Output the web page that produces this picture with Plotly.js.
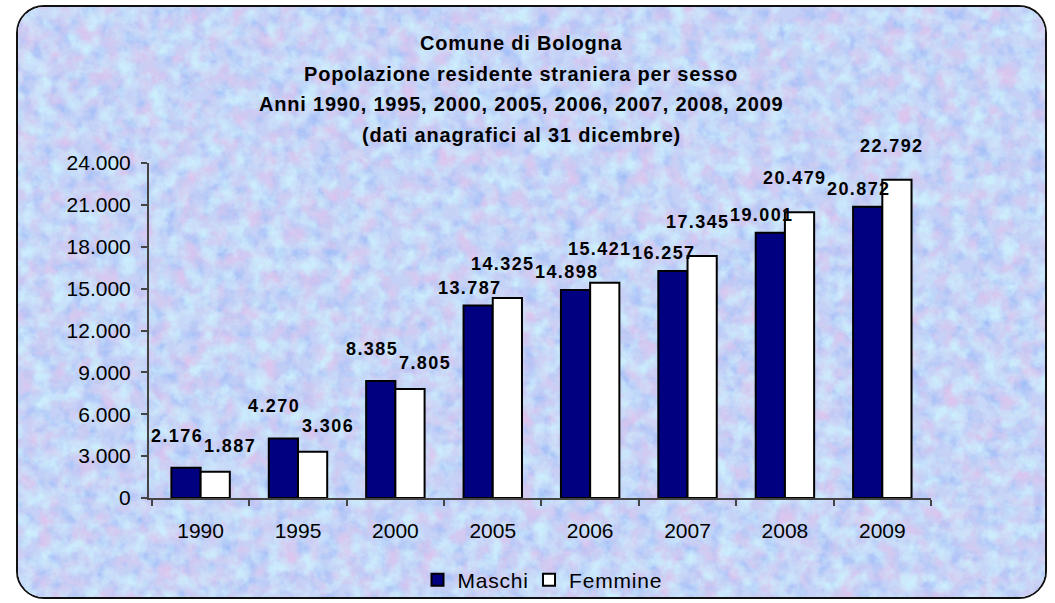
<!DOCTYPE html>
<html>
<head>
<meta charset="utf-8">
<script src="https://cdn.plot.ly/plotly-3.0.1.min.js"></script>
<style>
  html, body { margin:0; padding:0; background:#ffffff; }
  #wrap { position:relative; width:1055px; height:603px; overflow:hidden; }
  #bg { position:absolute; left:16px; top:5px; width:1027px; height:590px;
        border:2px solid #111; border-radius:28px; overflow:hidden; }
  #chart { position:absolute; left:0; top:0; width:1055px; height:603px; }
  #chart .legendtext { letter-spacing:0.8px; }
</style>
</head>
<body>
<div id="wrap">
  <div id="bg">
    <svg width="1031" height="594" xmlns="http://www.w3.org/2000/svg">
      <defs>
        <filter id="pink" x="0" y="0" width="100%" height="100%" color-interpolation-filters="sRGB">
          <feTurbulence type="fractalNoise" baseFrequency="0.05" numOctaves="4" seed="3"/>
          <feColorMatrix type="matrix" values="0 0 0 0 0.87  0 0 0 0 0.77  0 0 0 0 0.93  2.2 0 0 0 -0.92"/>
        </filter>
        <filter id="cyan" x="0" y="0" width="100%" height="100%" color-interpolation-filters="sRGB">
          <feTurbulence type="fractalNoise" baseFrequency="0.06" numOctaves="4" seed="11"/>
          <feColorMatrix type="matrix" values="0 0 0 0 0.80  0 0 0 0 0.93  0 0 0 0 0.99  0 2.4 0 0 -0.95"/>
        </filter>
        <filter id="blue" x="0" y="0" width="100%" height="100%" color-interpolation-filters="sRGB">
          <feTurbulence type="fractalNoise" baseFrequency="0.075" numOctaves="3" seed="27"/>
          <feColorMatrix type="matrix" values="0 0 0 0 0.64  0 0 0 0 0.75  0 0 0 0 0.97  0 0 2.3 0 -0.95"/>
        </filter>
      </defs>
      <rect width="100%" height="100%" fill="#c5d1f6"/>
      <rect width="100%" height="100%" filter="url(#blue)"/>
      <rect width="100%" height="100%" filter="url(#pink)"/>
      <rect width="100%" height="100%" filter="url(#cyan)"/>
    </svg>
  </div>
  <div id="chart"></div>
</div>
<script>
const years = ["1990", "1995", "2000", "2005", "2006", "2007", "2008", "2009"];
const maschi = [2176, 4270, 8385, 13787, 14898, 16257, 19001, 20872];
const femmine = [1887, 3306, 7805, 14325, 15421, 17345, 20479, 22792];
const seriesNames = ["Maschi", "Femmine"];
const titleLines = [
  "Comune di Bologna",
  "Popolazione residente straniera per sesso",
  "Anni 1990, 1995, 2000, 2005, 2006, 2007, 2008, 2009",
  "(dati anagrafici al 31 dicembre)"
];

function fmt(v) {
  return String(v).replace(/\B(?=(\d{3})+(?!\d))/g, ".");
}

const FONT = "Liberation Sans, Arial, sans-serif";
const bargap = 0.40;
const off = (1 - bargap) / 4;

// plot area geometry (pixels)
const M = { l: 149, r: 124, t: 163, b: 105 };
const plotH = 603 - M.t - M.b;

const traces = [
  { type: "bar", name: seriesNames[0], x: years, y: maschi,
    marker: { color: "#000080", line: { color: "#000000", width: 2 } },
    hoverinfo: "skip" },
  { type: "bar", name: seriesNames[1], x: years, y: femmine,
    marker: { color: "#ffffff", line: { color: "#000000", width: 2 } },
    hoverinfo: "skip" }
];

const labelFont = { family: FONT, size: 18, color: "#000", weight: "bold" };
const sp = s => '<span style="letter-spacing:1.4px">' + s + '</span>';
const annotations = [];
years.forEach((yr, i) => {
  const fLower = femmine[i] < maschi[i];
  annotations.push({ x: i - off, y: maschi[i], xref: "x", yref: "y",
    text: sp(fmt(maschi[i])), showarrow: false, yanchor: "middle",
    yshift: fLower ? 32 : 18, xshift: -9, font: labelFont });
  annotations.push({ x: i + off, y: femmine[i], xref: "x", yref: "y",
    text: sp(fmt(femmine[i])), showarrow: false, yanchor: "middle",
    yshift: fLower ? 26 : 34, xshift: fLower ? 15 : -5, font: labelFont });
});

// title lines as separate annotations (wider line spacing than Plotly titles allow)
const titleCenterX = 521, titleFirstY = 43, titleStep = 30.7;
titleLines.forEach((line, k) => {
  const ypx = titleFirstY + k * titleStep;
  annotations.push({
    xref: "paper", yref: "paper",
    x: (titleCenterX - M.l) / (1055 - M.l - M.r),
    y: (603 - M.b - ypx) / plotH,
    xanchor: "center", yanchor: "middle", showarrow: false,
    text: '<b><span style="letter-spacing:0.8px">' + line + '</span></b>',
    font: { family: FONT, size: 20, color: "#000", weight: "bold" }
  });
});

const layout = {
  width: 1055, height: 603,
  paper_bgcolor: "rgba(0,0,0,0)",
  plot_bgcolor: "rgba(0,0,0,0)",
  separators: ",.",
  margin: M,
  font: { family: FONT, color: "#000" },
  barmode: "group",
  bargap: bargap,
  bargroupgap: 0,
  showlegend: true,
  legend: {
    orientation: "h", xref: "container", yref: "container",
    x: 540 / 1055, xanchor: "center", y: 1 - 580 / 603, yanchor: "middle",
    font: { family: FONT, size: 21, color: "#000" },
    bgcolor: "rgba(0,0,0,0)", itemwidth: 30, traceorder: "normal"
  },
  xaxis: {
    type: "category", automargin: false,
    showline: true, linecolor: "#444", linewidth: 2,
    ticks: "outside", tickson: "boundaries", ticklen: 6, tickcolor: "#444", tickwidth: 2,
    tickfont: { family: FONT, size: 21, color: "#000" },
    ticklabelstandoff: 13,
    showgrid: false, zeroline: false, fixedrange: true
  },
  yaxis: {
    range: [0, 24000], dtick: 3000, tick0: 0, tickformat: ",d", automargin: false,
    showline: true, linecolor: "#444", linewidth: 2,
    ticks: "outside", ticklen: 6, tickcolor: "#444", tickwidth: 2,
    tickfont: { family: FONT, size: 21, color: "#000" },
    ticklabelstandoff: 6,
    showgrid: false, zeroline: false, fixedrange: true
  },
  annotations: annotations
};

Plotly.newPlot("chart", traces, layout, { displayModeBar: false, staticPlot: true });
</script>
</body>
</html>
